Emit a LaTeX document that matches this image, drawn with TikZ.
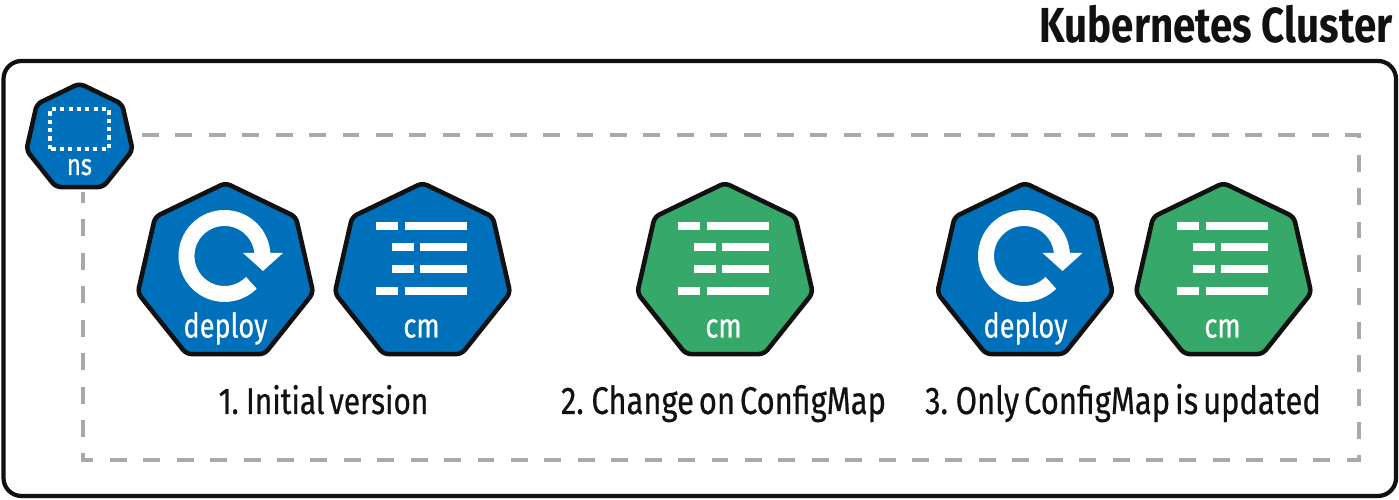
\documentclass[tikz,border=0pt]{standalone}
\usepackage{fontspec}
\setmainfont{Fira Sans}
\newfontfamily\titlefont[FakeStretch=0.82]{Fira Sans}
\newfontfamily\narrowmedium[FakeStretch=0.8,WordSpace=0.6,FakeBold=0.5]{Fira Sans}
\usetikzlibrary{shapes.geometric}

\definecolor{kubeblue}{HTML}{0070BA}
\definecolor{kubegreen}{HTML}{36A86A}
\definecolor{inkblack}{HTML}{111111}
\definecolor{framegray}{HTML}{A7A9AC}

\tikzset{
    hept/.style={regular polygon, regular polygon sides=7, minimum size=3.6cm, inner sep=0pt,
        outer sep=0pt, draw=inkblack, line width=2.6pt, rounded corners=3pt},
    smallhept/.style={hept, minimum size=2.18cm},
    bluehept/.style={hept, fill=kubeblue},
    greenhept/.style={hept, fill=kubegreen},
    kindlabel/.style={anchor=base, text=white, inner sep=0pt, font=\narrowmedium\fontsize{19.3}{19.3}\selectfont},
    steplabel/.style={anchor=base, text=inkblack, inner sep=0pt, font=\narrowmedium\fontsize{22}{22}\selectfont},
    cmbars/.pic={
        \fill[white] (-0.908, 0.86) rectangle (-0.474, 1.02);
        \fill[white] (-0.334, 0.86) rectangle (0.906, 1.02);
        \fill[white] (-0.594, 0.434) rectangle (-0.16, 0.594);
        \fill[white] (-0.028, 0.434) rectangle (0.906, 0.594);
        \fill[white] (-0.594, 0) rectangle (-0.16, 0.154);
        \fill[white] (-0.028, 0) rectangle (0.906, 0.154);
        \fill[white] (-0.908, -0.44) rectangle (-0.474, -0.28);
        \fill[white] (-0.334, -0.44) rectangle (0.906, -0.28);
    },
    rollarrow/.pic={
        \draw[white, line width=9.07pt] (0.517, -0.197) arc[start angle=-45, end angle=-360, radius=0.76];
        \fill[white] (0.35, 0.40) -- (1.15, 0.40) -- (0.75, 0.04) -- cycle;
    }
}

\begin{document}
\begin{tikzpicture}
        \useasboundingbox (0, 0) rectangle (27.98, 10);
        % cluster frame
        \draw[inkblack, line width=2.4pt, rounded corners=0.36cm] (0.07, 0.08) rectangle (27.92, 8.78);
        \node[anchor=base east, inner sep=0pt, text=inkblack, font=\bfseries\titlefont\fontsize{28}{28}\selectfont] (clustertitle) at (27.86, 9.14) {Kubernetes Cluster};
        % namespace frame
        \draw[framegray, line width=2pt, dash pattern=on 9.64pt off 9.38pt] (2.84, 7.3) -- (27.18, 7.3) -- (27.18, 0.8) -- (1.66, 0.8) -- (1.66, 6.16);
        % namespace
        \node[smallhept, fill=kubeblue] (nshept) at (1.59, 7.24) {};
        \draw[white, line width=2.2pt, dash pattern=on 2.38pt off 2.38pt] (1.0, 7.02) rectangle (2.18, 7.82);
        \node[kindlabel, font=\narrowmedium\fontsize{17}{17}\selectfont] (nslabel) at (1.59, 6.5) {ns};
        % step one
        \node[bluehept] (deployone) at (4.51, 4.54) {};
        \pic at (4.51, 4.54) {rollarrow};
        \node[kindlabel] (deployonelabel) at (4.51, 3.25) {deploy};
        \node[bluehept] (cmone) at (8.45, 4.54) {};
        \pic at (8.43, 4.54) {cmbars};
        \node[kindlabel] (cmonelabel) at (8.43, 3.25) {cm};
        \node[steplabel, font=\narrowmedium\fontsize{21.2}{21.2}\selectfont] (stepone) at (6.47, 1.72) {1. Initial version};
        % step two
        \node[greenhept] (cmtwo) at (14.5, 4.54) {};
        \pic at (14.47, 4.54) {cmbars};
        \node[kindlabel] (cmtwolabel) at (14.47, 3.25) {cm};
        \node[steplabel] (steptwo) at (14.47, 1.72) {2. Change on ConfigMap};
        % step three
        \node[bluehept] (deploythree) at (20.5, 4.54) {};
        \pic at (20.5, 4.54) {rollarrow};
        \node[kindlabel] (deploythreelabel) at (20.51, 3.25) {deploy};
        \node[greenhept] (cmthree) at (24.47, 4.54) {};
        \pic at (24.45, 4.54) {cmbars};
        \node[kindlabel] (cmthreelabel) at (24.45, 3.25) {cm};
        \node[steplabel] (stepthree) at (22.46, 1.72) {3. Only ConfigMap is updated};
\end{tikzpicture}
\end{document}
